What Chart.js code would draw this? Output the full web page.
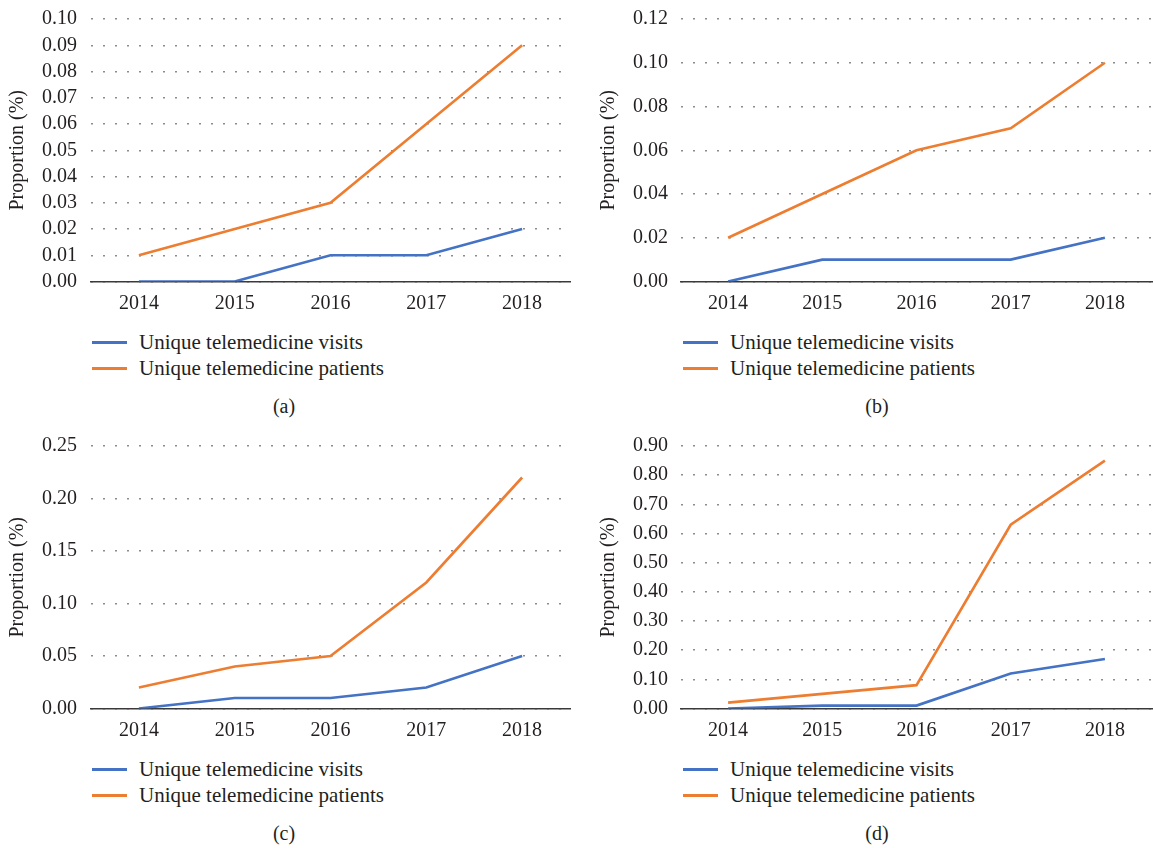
<!DOCTYPE html>
<html lang="en">
<head>
<meta charset="UTF-8">
<title>Telemedicine proportions</title>
<script src="https://cdn.jsdelivr.net/npm/chart.js"></script>
<style>
    body { margin: 0; background: #fff; width: 1153px; height: 848px; position: relative; overflow: hidden; font-family: "Liberation Serif", serif; color: #231f20; }
    canvas { position: absolute; }
    .legenda { position: absolute; font-size: 21px; line-height: 26px; }
    .legenda div { display: flex; align-items: center; white-space: nowrap; }
    .legenda span.linha { display: inline-block; width: 35px; height: 3px; margin-right: 12px; }
    .caption { position: absolute; font-size: 20px; transform: translateX(-50%); }
</style>
</head>
<body>
<canvas id="chartA" width="576" height="320" style="left:0;top:0"></canvas>
<canvas id="chartB" width="563" height="320" style="left:590px;top:0"></canvas>
<canvas id="chartC" width="576" height="320" style="left:0;top:427px"></canvas>
<canvas id="chartD" width="563" height="320" style="left:590px;top:427px"></canvas>

<div class="legenda" id="legendaA" style="left:92px;top:329px"></div>
<div class="legenda" id="legendaB" style="left:683px;top:329px"></div>
<div class="legenda" id="legendaC" style="left:92px;top:756px"></div>
<div class="legenda" id="legendaD" style="left:683px;top:756px"></div>

<div class="caption" style="left:284px;top:395px">(a)</div>
<div class="caption" style="left:877px;top:395px">(b)</div>
<div class="caption" style="left:284px;top:822px">(c)</div>
<div class="caption" style="left:877px;top:822px">(d)</div>

<script>
    // anos (eixo x)
    var anos = ['2014', '2015', '2016', '2017', '2018'];
    var nomesSeries = ['Unique telemedicine visits', 'Unique telemedicine patients'];
    var cores = ['#4472C4', '#ED7D31'];

    // (a)
    var visitasA = [0.00, 0.00, 0.01, 0.01, 0.02];
    var pacientesA = [0.01, 0.02, 0.03, 0.06, 0.09];
    // (b)
    var visitasB = [0.00, 0.01, 0.01, 0.01, 0.02];
    var pacientesB = [0.02, 0.04, 0.06, 0.07, 0.10];
    // (c)
    var visitasC = [0.00, 0.01, 0.01, 0.02, 0.05];
    var pacientesC = [0.02, 0.04, 0.05, 0.12, 0.22];
    // (d)
    var visitasD = [0.00, 0.01, 0.01, 0.12, 0.17];
    var pacientesD = [0.02, 0.05, 0.08, 0.63, 0.85];

    // escalas y: maximo e passo
    var maximos = [0.10, 0.12, 0.25, 0.90];
    var passos = [0.01, 0.02, 0.05, 0.10];

    var familia = '"Liberation Serif", "Times New Roman", serif';
    Chart.defaults.font.family = familia;
    Chart.defaults.color = '#231f20';

    function criarGrafico(id, visitas, pacientes, maximo, passo, padDireita, padTitulo, padTicks) {
        var config = {
            type: 'line',
            data: {
                labels: anos,
                datasets: [
                    { label: nomesSeries[0], data: visitas, borderColor: cores[0], backgroundColor: cores[0], borderWidth: 2.6, pointRadius: 0, tension: 0 },
                    { label: nomesSeries[1], data: pacientes, borderColor: cores[1], backgroundColor: cores[1], borderWidth: 2.6, pointRadius: 0, tension: 0 }
                ]
            },
            options: {
                responsive: false,
                animation: false,
                devicePixelRatio: 1,
                layout: { padding: { top: 19, right: padDireita, left: 0, bottom: 0 } },
                plugins: { legend: { display: false }, tooltip: { enabled: false } },
                scales: {
                    x: {
                        offset: true,
                        grid: { display: false },
                        border: { display: true, color: '#3a3a3a', width: 1.5 },
                        ticks: { font: { family: familia, size: 20 }, padding: 2 },
                        afterFit: function (s) { s.height = 38.5; }
                    },
                    y: {
                        min: 0,
                        max: maximo,
                        border: { display: false, dash: [2, 10] },
                        grid: { color: '#8c8c8c', lineWidth: 1.4, drawTicks: false },
                        ticks: {
                            stepSize: passo,
                            autoSkip: false,
                            maxTicksLimit: 20,
                            font: { family: familia, size: 20 },
                            padding: padTicks,
                            callback: function (v) { return Number(v).toFixed(2); }
                        },
                        title: { display: true, text: 'Proportion (%)', font: { family: familia, size: 20 }, padding: { top: padTitulo, bottom: 0 } },
                        afterFit: function (s) {
                            s.width = 91;
                            // o topo da area do grafico fica so com o padding do layout
                            s.paddingTop = 0;
                            s.paddingBottom = 0;
                        }
                    }
                }
            }
        };
        return new Chart(document.getElementById(id), config);
    }

    function desenhar() {
        criarGrafico('chartA', visitasA, pacientesA, maximos[0], passos[0], 6, 6, 14);
        criarGrafico('chartB', visitasB, pacientesB, maximos[1], passos[1], 1, 7, 13);
        criarGrafico('chartC', visitasC, pacientesC, maximos[2], passos[2], 6, 6, 14);
        criarGrafico('chartD', visitasD, pacientesD, maximos[3], passos[3], 1, 7, 13);
    }

    ['legendaA', 'legendaB', 'legendaC', 'legendaD'].forEach(function (id) {
        var el = document.getElementById(id);
        nomesSeries.forEach(function (nome, i) {
            el.innerHTML += '<div><span class="linha" style="background:' + cores[i] + '"></span><span>' + nome + '</span></div>';
        });
    });

    // garante que a fonte serif esteja carregada antes de desenhar no canvas
    document.fonts.load('20px "Liberation Serif"').then(desenhar, desenhar);
</script>
</body>
</html>
